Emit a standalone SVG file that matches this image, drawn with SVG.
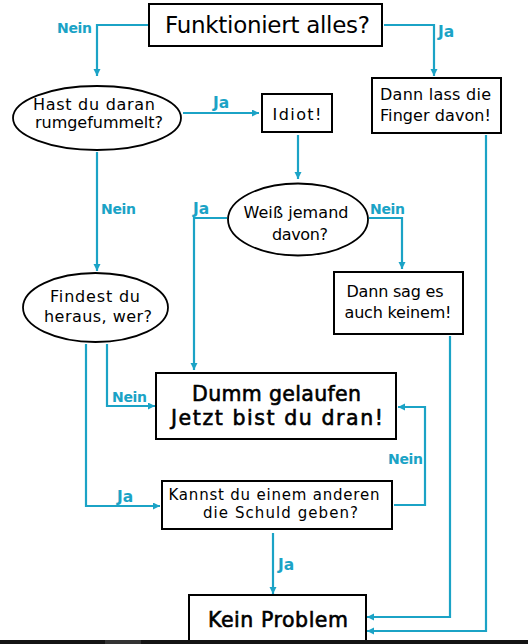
<svg xmlns="http://www.w3.org/2000/svg" width="528" height="644" viewBox="0 0 528 644">
<style>
.box{fill:#fff;stroke:#000;stroke-width:2}
.ell{fill:#fff;stroke:#000;stroke-width:1.8}
.t{font-family:"DejaVu Sans","Liberation Sans",sans-serif;font-size:16px;fill:#000;text-anchor:middle}
.sm{font-size:15px}
.big{font-family:"DejaVu Sans","Liberation Sans",sans-serif;font-size:23px;fill:#000;text-anchor:middle}
.semi{font-size:20.5px;stroke:#000;stroke-width:0.6}
.lbl{font-family:"DejaVu Sans","Liberation Sans",sans-serif;font-size:14px;font-weight:bold;fill:#1ba3c6}
.ja{font-size:15.5px}
.c{fill:none;stroke:#1ba3c6;stroke-width:2.2}
</style>
<defs>
<marker id="ah" markerUnits="userSpaceOnUse" markerWidth="8" markerHeight="8" refX="7" refY="3.5" orient="auto">
<path d="M0,0 L7,3.5 L0,7 z" fill="#1ba3c6"/>
</marker>
</defs>
<rect width="528" height="644" fill="#fff"/>
<g id="connectors">
<path class="c" d="M148,25 H97 V76" marker-end="url(#ah)"/>
<path class="c" d="M384,25 H434 V76" marker-end="url(#ah)"/>
<path class="c" d="M183,113 H259" marker-end="url(#ah)"/>
<path class="c" d="M298,135 V179" marker-end="url(#ah)"/>
<path class="c" d="M97,152 V271" marker-end="url(#ah)"/>
<path class="c" d="M227,218 H194 V370" marker-end="url(#ah)"/>
<path class="c" d="M369,218 H402 V269" marker-end="url(#ah)"/>
<path class="c" d="M107,344 V406 H155" marker-end="url(#ah)"/>
<path class="c" d="M86,344 V506 H160" marker-end="url(#ah)"/>
<path class="c" d="M394,505 H425 V407 H398" marker-end="url(#ah)"/>
<path class="c" d="M273,533 V594" marker-end="url(#ah)"/>
<path class="c" d="M450,336 V617 H367" marker-end="url(#ah)"/>
<path class="c" d="M486,135 V631 H367" marker-end="url(#ah)"/>
<text class="lbl" x="57" y="33" textLength="35">Nein</text>
<text class="lbl ja" x="438" y="37">Ja</text>
<text class="lbl ja" x="213" y="108">Ja</text>
<text class="lbl" x="101" y="214" textLength="35">Nein</text>
<text class="lbl ja" x="193" y="214">Ja</text>
<text class="lbl" x="370" y="214" textLength="35">Nein</text>
<text class="lbl" x="112" y="402" textLength="35">Nein</text>
<text class="lbl" x="388" y="464" textLength="35">Nein</text>
<text class="lbl ja" x="117" y="502">Ja</text>
<text class="lbl ja" x="278" y="570">Ja</text>
</g>
<g id="n-funktioniert">
<rect class="box" x="149" y="4" width="233" height="42"/>
<text class="big" x="267.5" y="33" textLength="205">Funktioniert alles?</text>
</g>
<g id="n-hast">
<ellipse class="ell" cx="97" cy="118" rx="84" ry="32"/>
<text class="t" x="94" y="110" textLength="122">Hast du daran</text>
<text class="t" x="99" y="128" textLength="128">rumgefummelt?</text>
</g>
<g id="n-idiot">
<rect class="box" x="262" y="94" width="70" height="38"/>
<text class="t" x="297" y="120" textLength="49">Idiot!</text>
</g>
<g id="n-dannlass">
<rect class="box" x="372" y="78" width="129" height="55"/>
<text class="t" x="435.5" y="100" textLength="111">Dann lass die</text>
<text class="t" x="435.5" y="121" textLength="111">Finger davon!</text>
</g>
<g id="n-weiss">
<ellipse class="ell" cx="298" cy="219.5" rx="70" ry="36"/>
<text class="t" x="296" y="218" textLength="105">Weiß jemand</text>
<text class="t" x="300" y="240" textLength="56">davon?</text>
</g>
<g id="n-dannsag">
<rect class="box" x="334" y="272" width="129" height="62"/>
<text class="t" x="395" y="297" textLength="97">Dann sag es</text>
<text class="t" x="398" y="318" textLength="107">auch keinem!</text>
</g>
<g id="n-findest">
<ellipse class="ell" cx="95.5" cy="307.5" rx="72.5" ry="34.5"/>
<text class="t" x="95" y="302" textLength="90">Findest du</text>
<text class="t" x="98" y="322" textLength="108">heraus, wer?</text>
</g>
<g id="n-dumm">
<rect class="box" x="156" y="373" width="240" height="66"/>
<text class="big semi" x="276.5" y="401" textLength="169">Dumm gelaufen</text>
<text class="big semi" x="277" y="425" textLength="212">Jetzt bist du dran!</text>
</g>
<g id="n-kannst">
<rect class="box" x="162" y="481" width="230" height="48"/>
<text class="t sm" x="274" y="500" textLength="211">Kannst du einem anderen</text>
<text class="t sm" x="280.5" y="518" textLength="155">die Schuld geben?</text>
</g>
<g id="n-kein">
<rect class="box" x="189" y="595" width="177" height="60"/>
<text class="big semi" x="278" y="627" textLength="140">Kein Problem</text>
</g>
<rect x="0" y="640" width="528" height="4" fill="#141414"/>
<rect x="105" y="640" width="36" height="4" fill="#333"/>
</svg>
